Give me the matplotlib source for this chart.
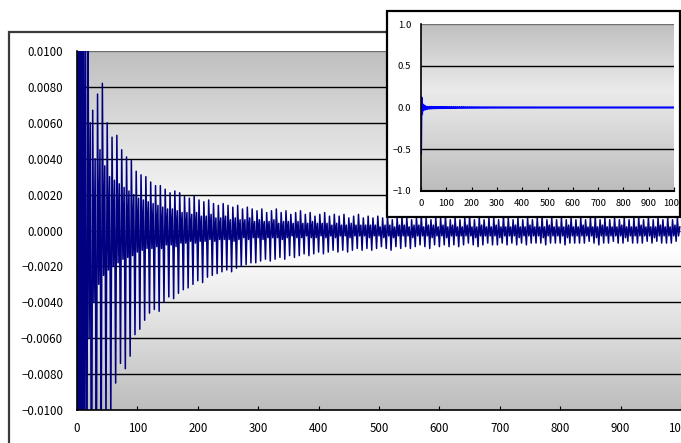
import numpy as np
import matplotlib.pyplot as plt
from matplotlib.colors import LinearSegmentedColormap
from matplotlib.patches import Rectangle

plt.rcParams['font.family'] = ['Noto Sans CJK JP', 'DejaVu Sans']

# signal, in units of 1e-4, one cycle every 8 samples:
# trough at 8k, main peak at 8k+2, dip at 8k+4, smaller peak at 8k+6
troughs = [-5500, -350, -260, -190, -150, -125, -108, -103, -85, -74,
           -77, -70, -58, -55, -50, -46, -44, -45, -40, -37,
           -38, -35, -33, -32, -30, -28, -29, -26, -25, -24,
           -23, -22, -23, -21, -20, -19, -18, -18, -17, -16,
           -17, -16, -15, -16, -14, -15, -14, -13, -14, -13,
           -12, -13, -12, -11, -12, -11, -12, -11, -10, -11,
           -10, -11, -10, -9, -10, -11, -9, -10, -9, -10,
           -9, -8, -9, -10, -8, -9, -8, -9, -8, -9,
           -8, -7, -8, -9, -8, -7, -8, -8, -7, -8,
           -7, -8, -7, -8, -7, -7, -7, -8, -7, -7,
           -7, -8, -7, -7, -7, -7, -6, -7, -8, -7,
           -7, -6, -7, -7, -6, -7, -7, -7, -6, -7,
           -6, -7, -7, -7, -6]
peaks = [1200, 300, 150, 67, 76, 82, 60, 52, 53, 45,
         41, 39, 33, 31, 30, 27, 25, 25, 23, 21,
         22, 21, 19, 18, 19, 17, 16, 17, 15, 14,
         15, 14, 13, 14, 12, 13, 12, 11, 12, 10,
         11, 12, 10, 11, 9, 10, 11, 9, 10, 8,
         9, 10, 8, 9, 8, 9, 7, 8, 9, 7,
         8, 7, 8, 7, 8, 6, 7, 8, 7, 6,
         7, 8, 7, 6, 7, 7, 8, 6, 7, 6,
         7, 8, 6, 7, 6, 7, 7, 6, 8, 7,
         6, 7, 6, 7, 6, 7, 8, 6, 7, 6,
         7, 6, 7, 6, 7, 6, 7, 8, 6, 7,
         6, 7, 6, 7, 6, 7, 7, 6, 7, 6,
         7, 6, 7, 6, 7]
dips = [-800, -120, -60, -40, -30, -25, -22, -20, -18, -16, -15, -14, -12, -11, -10, -10,
        -9, -10, -8, -8, -9, -7, -7, -6, -7, -6, -6, -5, -6, -5, -5, -5,
        -6, -5, -4, -5, -4, -4, -5, -4, -4, -4, -5, -4, -3, -4, -4, -3,
        -4, -4, -3, -4, -3, -4, -3, -3, -4, -3, -3, -3, -4, -3, -3, -4,
        -3, -4, -3, -3, -3, -4, -3, -3, -3, -4, -3, -3, -4, -3, -3, -3,
        -3, -3, -4, -3, -3, -3, -3, -4, -3, -3, -3, -4, -3, -3, -3, -3,
        -4, -3, -3, -3, -3, -4, -3, -3, -3, -3, -3, -4, -3, -3, -3, -3,
        -3, -4, -3, -3, -3, -3, -3, -4, -3, -3, -3, -3, -3]
subpeaks = [400, 120, 60, 40, 45, 36, 30, 28, 26, 24, 22, 20, 18, 17, 16, 15,
            14, 13, 12, 12, 11, 10, 10, 9, 10, 8, 8, 9, 7, 7, 8, 6,
            7, 6, 6, 7, 5, 6, 5, 5, 6, 4, 5, 5, 4, 5, 4, 4,
            5, 4, 4, 4, 3, 4, 3, 3, 4, 3, 3, 3, 3, 3, 2, 3,
            3, 2, 3, 3, 2, 3, 3, 2, 3, 3, 2, 3, 2, 3, 2, 2,
            3, 2, 2, 3, 2, 2, 3, 2, 2, 2, 3, 2, 2, 3, 2, 2,
            2, 3, 2, 2, 2, 3, 2, 2, 3, 2, 2, 2, 3, 2, 2, 2,
            3, 2, 2, 2, 3, 2, 2, 2, 3, 2, 2, 3, 2]

main_yticks = [-0.01, -0.008, -0.006, -0.004, -0.002, 0.0, 0.002, 0.004, 0.006, 0.008, 0.01]
inset_yticks = [-1.0, -0.5, 0.0, 0.5, 1.0]
xticks = [0, 100, 200, 300, 400, 500, 600, 700, 800, 900, 1000]

n = min(len(troughs), len(peaks), len(dips), len(subpeaks))
vals = np.column_stack([troughs[:n], peaks[:n], dips[:n], subpeaks[:n]]).ravel() * 1e-4
cyc = np.arange(n) * 8
xs = np.column_stack([cyc, cyc + 2, cyc + 4, cyc + 6]).ravel()


def fmt(v, d):
    s = f"{abs(v):.{d}f}"
    return ("\u2212" + s) if v < 0 else s


def gradient_bg(ax, stops):
    cmap = LinearSegmentedColormap.from_list('bg', stops)
    grad = np.linspace(0, 1, 256).reshape(-1, 1)
    ax.imshow(grad, extent=[0, 1, 0, 1], transform=ax.transAxes, origin='lower',
              aspect='auto', cmap=cmap, zorder=0, interpolation='bilinear')


fig = plt.figure(figsize=(6.81, 4.43), dpi=100)

# outer chart frame
fig.patches.append(Rectangle((9 / 681, -0.05), 1.2, 1 - 32 / 443 + 0.05, transform=fig.transFigure,
                             fill=False, edgecolor='#3a3a3a', linewidth=1.6, zorder=0.5))

# main chart
ax = fig.add_axes([77 / 681, 1 - 410 / 443, 1 - 77 / 681, (410 - 51) / 443])
ax.set_zorder(0)
gradient_bg(ax, [(0, '#bdbdbd'), (0.45, '#ffffff'), (0.52, '#ffffff'), (1, '#bfbfbf')])
for t in main_yticks[1:]:
    c = '#707070' if t in (0.0, 0.01) else 'black'
    ax.axhline(t, color=c, linewidth=1.0, zorder=1)
ax.plot(xs, vals, color='#000080', linewidth=1.1, zorder=2)
ax.set_xlim(0, 1000)
ax.set_ylim(-0.01, 0.01)
ax.set_yticks(main_yticks)
ax.set_yticklabels([fmt(t, 4) for t in main_yticks])
ax.set_xticks(xticks)
ax.set_xticklabels([str(t) for t in xticks])
for s in ('top', 'right'):
    ax.spines[s].set_visible(False)
ax.spines['left'].set_linewidth(1.2)
ax.spines['bottom'].set_linewidth(1.2)
ax.tick_params(axis='y', length=0, pad=10, labelsize=8.3, labelcolor='black')
ax.tick_params(axis='x', direction='in', length=3, pad=9, labelsize=8.3, labelcolor='black')

# inset frame
fig.patches.append(Rectangle((387 / 681, 1 - 217 / 443), (680 - 387) / 681, (217 - 11) / 443,
                             transform=fig.transFigure, facecolor='white', edgecolor='black',
                             linewidth=1.6, zorder=1))

# inset chart
axi = fig.add_axes([421 / 681, 1 - 191 / 443, (674 - 421) / 681, (191 - 24) / 443])
axi.set_zorder(2)
gradient_bg(axi, [(0, '#bcbcbc'), (0.6, '#ebebeb'), (1, '#c0c0c0')])
for t in (-0.5, 0.5, 1.0):
    c = '#707070' if t == 1.0 else 'black'
    axi.axhline(t, color=c, linewidth=1.0, zorder=1)
axi.plot(xs, vals, color='#0000ff', linewidth=1.5, zorder=2)
axi.set_xlim(0, 1000)
axi.set_ylim(-1, 1)
axi.set_yticks(inset_yticks)
axi.set_yticklabels([fmt(t, 1) for t in inset_yticks])
axi.set_xticks(xticks)
axi.set_xticklabels([str(t) for t in xticks])
for s in ('top', 'right'):
    axi.spines[s].set_visible(False)
axi.spines['left'].set_linewidth(1.2)
axi.spines['bottom'].set_linewidth(1.5)
axi.tick_params(axis='y', length=0, pad=7, labelsize=6.8, labelcolor='black')
axi.tick_params(axis='x', direction='in', length=3, pad=6, labelsize=6.8, labelcolor='black')

fig.savefig('out.png', dpi=100)
